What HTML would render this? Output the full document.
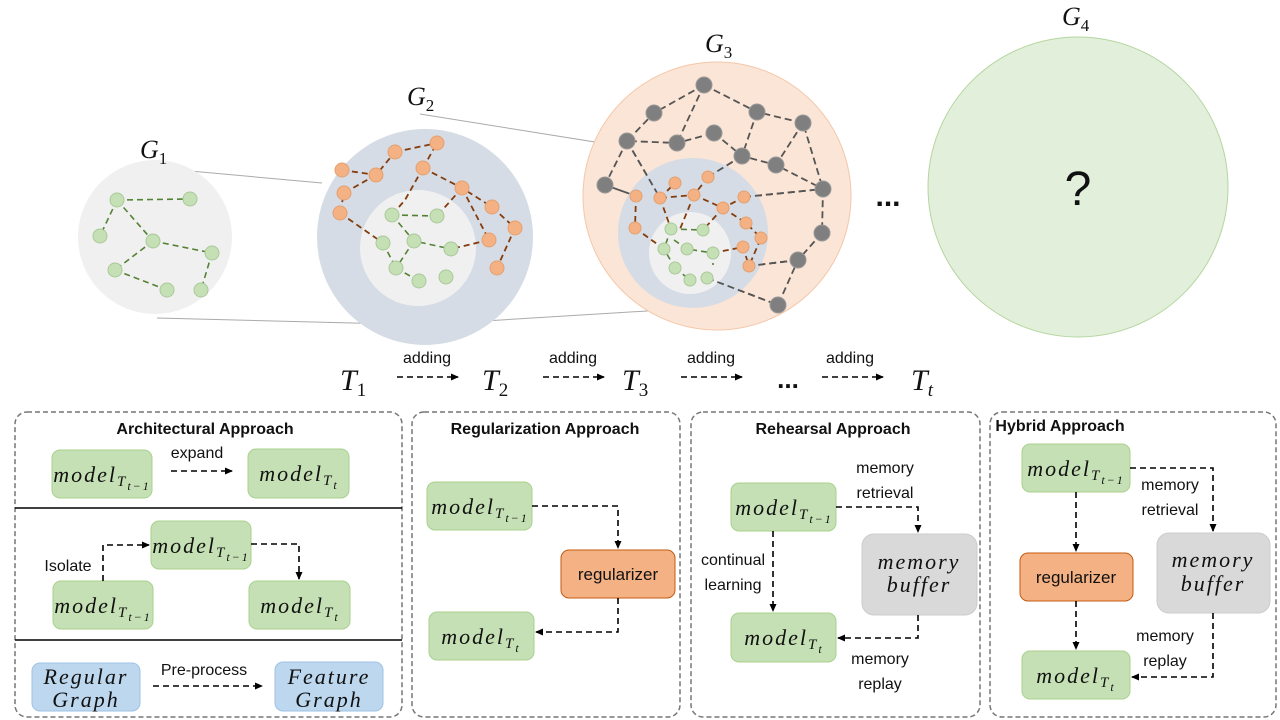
<!DOCTYPE html>
<html><head><meta charset="utf-8"><style>
html,body{margin:0;padding:0;background:#fff;width:1280px;height:720px;overflow:hidden}
svg{display:block}
.m{font-family:"Liberation Serif",serif;font-style:italic;font-size:22px;letter-spacing:2px}
.s{font-family:"Liberation Sans",sans-serif;font-size:16px;fill:#111}
.t{font-family:"Liberation Sans",sans-serif;font-size:16px;font-weight:bold;fill:#111}
.g{stroke:#548235;stroke-width:1.6;stroke-dasharray:6 4;fill:none}
.o{stroke:#843c0c;stroke-width:1.8;stroke-dasharray:6 4;fill:none}
.k{stroke:#555;stroke-width:1.8;stroke-dasharray:7 4;fill:none}
.a{stroke:#000;stroke-width:1.6;stroke-dasharray:6 4;fill:none}
</style></head><body>
<svg width="1280" height="720" viewBox="0 0 1280 720" xmlns="http://www.w3.org/2000/svg">
<defs>
<marker id="ar" markerWidth="8" markerHeight="8" refX="7" refY="4" orient="auto" markerUnits="userSpaceOnUse"><path d="M0,0.5 L8,4 L0,7.5z" fill="#000"/></marker>
</defs>
<line x1="157" y1="168" x2="322" y2="183" stroke="#aaa" stroke-width="1"/>
<line x1="157" y1="318" x2="428" y2="325" stroke="#aaa" stroke-width="1"/>
<line x1="420" y1="114" x2="695" y2="158" stroke="#aaa" stroke-width="1"/>
<line x1="420" y1="325" x2="695" y2="308" stroke="#aaa" stroke-width="1"/>
<circle cx="155" cy="237" r="77" fill="#f0f0f0"/>
<g class="g"><path d="M117,200 L190,199 M117,200 L100,236 M117,200 L153,241 M153,241 L212,253 M153,241 L115,270 M212,253 L201,290 M115,270 L167,290"/></g>
<g fill="#c5e0b4" stroke="#a9c99a" stroke-width="1"><circle cx="117" cy="200" r="7"/><circle cx="190" cy="199" r="7"/><circle cx="100" cy="236" r="7"/><circle cx="153" cy="241" r="7"/><circle cx="212" cy="253" r="7"/><circle cx="115" cy="270" r="7"/><circle cx="167" cy="290" r="7"/><circle cx="201" cy="290" r="7"/></g>
<circle cx="425" cy="237" r="108" fill="#d6dce5"/>
<circle cx="418" cy="248" r="58" fill="#f0f0f0"/>
<g class="o"><path d="M342,170 L376,175 L395,152 M376,175 L344,193 L340,213 M395,152 L437,143 M423,168 L437,143 M423,168 L462,188 L492,207 L515,228 L497,268 M462,188 L489,240 M423,168 L405,200 L392,215 M340,213 L383,243 M462,188 L437,216 M489,240 L451,249"/></g>
<g class="g"><path d="M392,215 L437,216 M392,215 L414,241 L451,249 M383,243 L396,268 M414,241 L396,268 M396,268 L419,281"/></g>
<g fill="#f4b183" stroke="#e3a070" stroke-width="1"><circle cx="342" cy="170" r="7"/><circle cx="395" cy="152" r="7"/><circle cx="437" cy="143" r="7"/><circle cx="376" cy="175" r="7"/><circle cx="423" cy="168" r="7"/><circle cx="462" cy="188" r="7"/><circle cx="344" cy="193" r="7"/><circle cx="492" cy="207" r="7"/><circle cx="340" cy="213" r="7"/><circle cx="515" cy="228" r="7"/><circle cx="489" cy="240" r="7"/><circle cx="497" cy="268" r="7"/></g>
<g fill="#c5e0b4" stroke="#a9c99a" stroke-width="1"><circle cx="392" cy="215" r="7"/><circle cx="437" cy="216" r="7"/><circle cx="383" cy="243" r="7"/><circle cx="414" cy="241" r="7"/><circle cx="451" cy="249" r="7"/><circle cx="396" cy="268" r="7"/><circle cx="419" cy="281" r="7"/><circle cx="446" cy="277" r="7"/></g>
<circle cx="717" cy="196" r="134" fill="#fbe5d6" stroke="#f4c7a8" stroke-width="1"/>
<g class="k"><path d="M704,85 L654,113 L627,141 L677,143 L714,133 M704,85 L677,143 M704,85 L757,112 L803,123 L823,189 L822,233 L798,260 L778,305 M757,112 L742,156 L776,165 L823,189 M803,123 L776,165 M714,133 L742,156 M627,141 L605,185 L636,196 M627,141 L660,198 M605,185 L636,196 M744,197 L823,189 M798,260 L749,266 M707,278 L778,305 M742,156 L708,177"/></g>
<circle cx="693" cy="233" r="75" fill="#d6dce5"/>
<circle cx="690" cy="253" r="41" fill="#f0f0f0"/>
<g class="k"><path d="M742,156 L708,177 M744,197 L823,189 M798,260 L749,266 M707,278 L778,305 M627,141 L660,198"/></g>
<g class="o"><path d="M636,196 L635,228 M660,198 L675,183 M708,177 L694,195 L660,198 M694,195 L723,208 L744,197 M723,208 L746,223 L761,238 L749,266 M635,228 L664,249 M660,198 L671,229 M694,195 L680,229 M723,208 L703,230 M713,253 L743,247 L749,266"/></g>
<g class="g"><path d="M671,229 L703,230 M671,229 L664,249 M674,240 L687,249 L713,253 M675,268 L664,249 M713,253 L713,265 M675,268 L690,280"/></g>
<g fill="#7f7f7f" stroke="#999" stroke-width="1"><circle cx="704" cy="85" r="8"/><circle cx="654" cy="113" r="8"/><circle cx="627" cy="141" r="8"/><circle cx="677" cy="143" r="8"/><circle cx="714" cy="133" r="8"/><circle cx="757" cy="112" r="8"/><circle cx="803" cy="123" r="8"/><circle cx="742" cy="156" r="8"/><circle cx="776" cy="165" r="8"/><circle cx="823" cy="189" r="8"/><circle cx="605" cy="185" r="8"/><circle cx="822" cy="233" r="8"/><circle cx="798" cy="260" r="8"/><circle cx="778" cy="305" r="8"/></g>
<g fill="#f4b183" stroke="#e3a070" stroke-width="1"><circle cx="675" cy="183" r="6"/><circle cx="708" cy="177" r="6"/><circle cx="636" cy="196" r="6"/><circle cx="660" cy="198" r="6"/><circle cx="694" cy="195" r="6"/><circle cx="744" cy="197" r="6"/><circle cx="723" cy="208" r="6"/><circle cx="635" cy="228" r="6"/><circle cx="746" cy="223" r="6"/><circle cx="761" cy="238" r="6"/><circle cx="743" cy="247" r="6"/><circle cx="749" cy="266" r="6"/></g>
<g fill="#c5e0b4" stroke="#a9c99a" stroke-width="1"><circle cx="671" cy="229" r="6"/><circle cx="703" cy="230" r="6"/><circle cx="664" cy="249" r="6"/><circle cx="687" cy="249" r="6"/><circle cx="713" cy="253" r="6"/><circle cx="675" cy="268" r="6"/><circle cx="690" cy="280" r="6"/><circle cx="707" cy="278" r="6"/></g>
<circle cx="1078" cy="187" r="150" fill="#e2efda" stroke="#b5d6a0" stroke-width="1"/>
<text x="1078" y="205" text-anchor="middle" font-family="Liberation Sans,sans-serif" font-size="48" fill="#111">?</text>
<text x="888" y="206" text-anchor="middle" font-family="Liberation Sans,sans-serif" font-size="30" font-weight="bold" fill="#111">...</text>
<g font-family="Liberation Serif,serif" font-style="italic" font-size="26" fill="#111">
<text x="140" y="158">G<tspan font-size="17" dy="6" font-style="normal">1</tspan></text>
<text x="407" y="105">G<tspan font-size="17" dy="6" font-style="normal">2</tspan></text>
<text x="705" y="52">G<tspan font-size="17" dy="6" font-style="normal">3</tspan></text>
<text x="1062" y="25">G<tspan font-size="17" dy="6" font-style="normal">4</tspan></text>
</g>
<g font-family="Liberation Serif,serif" font-style="italic" font-size="30" fill="#111">
<text x="340" y="390">T<tspan font-size="19" dy="6" font-style="normal">1</tspan></text>
<text x="482" y="390">T<tspan font-size="19" dy="6" font-style="normal">2</tspan></text>
<text x="622" y="390">T<tspan font-size="19" dy="6" font-style="normal">3</tspan></text>
<text x="911" y="390">T<tspan font-size="19" dy="6">t</tspan></text>
</g>
<text x="788" y="388" text-anchor="middle" font-family="Liberation Sans,sans-serif" font-size="26" font-weight="bold" fill="#111">...</text>
<g class="s" text-anchor="middle"><text x="427" y="363">adding</text><text x="573" y="363">adding</text><text x="711" y="363">adding</text><text x="850" y="363">adding</text></g>
<g class="a" marker-end="url(#ar)"><line x1="397" y1="377" x2="458" y2="377"/><line x1="543" y1="377" x2="604" y2="377"/><line x1="681" y1="377" x2="742" y2="377"/><line x1="822" y1="377" x2="883" y2="377"/></g>
<g fill="none" stroke="#777" stroke-width="1.5" stroke-dasharray="5 3">
<rect x="15" y="412" width="387" height="305" rx="12"/>
<rect x="412" y="412" width="268" height="305" rx="12"/>
<rect x="691" y="412" width="289" height="305" rx="12"/>
<rect x="990" y="412" width="286" height="305" rx="12"/>
</g>
<line x1="15" y1="508" x2="402" y2="508" stroke="#000" stroke-width="1.5"/>
<line x1="15" y1="640" x2="402" y2="640" stroke="#000" stroke-width="1.5"/>
<g class="t" text-anchor="middle"><text x="205" y="434">Architectural Approach</text><text x="545" y="434">Regularization Approach</text><text x="833" y="434">Rehearsal Approach</text><text x="1060" y="431">Hybrid Approach</text></g>
<g fill="#c5e0b4" stroke="#a9d18e" stroke-width="1">
<rect x="52" y="450" width="100" height="48" rx="8"/><rect x="248" y="449" width="101" height="49" rx="8"/>
<rect x="151" y="521" width="100" height="48" rx="8"/><rect x="53" y="581" width="100" height="48" rx="8"/><rect x="249" y="581" width="101" height="48" rx="8"/>
<rect x="427" y="482" width="105" height="48" rx="8"/><rect x="429" y="612" width="105" height="48" rx="8"/>
<rect x="731" y="483" width="105" height="48" rx="8"/><rect x="731" y="613" width="105" height="49" rx="8"/>
<rect x="1022" y="444" width="108" height="48" rx="8"/><rect x="1022" y="651" width="108" height="48" rx="8"/>
</g>
<g fill="#bdd7ee" stroke="#9dc3e6" stroke-width="1"><rect x="32" y="663" width="108" height="48" rx="8"/><rect x="275" y="662" width="108" height="49" rx="8"/></g>
<g fill="#f4b183" stroke="#c55a11" stroke-width="1"><rect x="561" y="550" width="114" height="48" rx="8"/><rect x="1020" y="553" width="113" height="48" rx="8"/></g>
<g fill="#d9d9d9" stroke="#ccc" stroke-width="1"><rect x="862" y="534" width="115" height="81" rx="12"/><rect x="1157" y="533" width="113" height="80" rx="12"/></g>
<g class="m" fill="#111" text-anchor="middle">
<text x="102" y="482">model<tspan font-size="15" dy="4">T</tspan><tspan font-size="12" dy="4">t−1</tspan></text>
<text x="299" y="481">model<tspan font-size="15" dy="4">T</tspan><tspan font-size="12" dy="4">t</tspan></text>
<text x="201" y="553">model<tspan font-size="15" dy="4">T</tspan><tspan font-size="12" dy="4">t−1</tspan></text>
<text x="103" y="613">model<tspan font-size="15" dy="4">T</tspan><tspan font-size="12" dy="4">t−1</tspan></text>
<text x="300" y="613">model<tspan font-size="15" dy="4">T</tspan><tspan font-size="12" dy="4">t</tspan></text>
<text x="480" y="514">model<tspan font-size="15" dy="4">T</tspan><tspan font-size="12" dy="4">t−1</tspan></text>
<text x="481" y="644">model<tspan font-size="15" dy="4">T</tspan><tspan font-size="12" dy="4">t</tspan></text>
<text x="784" y="515">model<tspan font-size="15" dy="4">T</tspan><tspan font-size="12" dy="4">t−1</tspan></text>
<text x="784" y="645">model<tspan font-size="15" dy="4">T</tspan><tspan font-size="12" dy="4">t</tspan></text>
<text x="1076" y="476">model<tspan font-size="15" dy="4">T</tspan><tspan font-size="12" dy="4">t−1</tspan></text>
<text x="1076" y="683">model<tspan font-size="15" dy="4">T</tspan><tspan font-size="12" dy="4">t</tspan></text>
<text x="86" y="684">Regular</text><text x="86" y="707">Graph</text>
<text x="329" y="684">Feature</text><text x="329" y="707">Graph</text>
<text x="919" y="569">memory</text><text x="919" y="592">buffer</text>
<text x="1213" y="567">memory</text><text x="1213" y="591">buffer</text>
</g>
<g class="s" text-anchor="middle" style="font-size:17px">
<text x="618" y="580">regularizer</text><text x="1076" y="583">regularizer</text>
</g>
<g class="s" text-anchor="middle">
<text x="197" y="458">expand</text><text x="68" y="571">Isolate</text><text x="204" y="675">Pre-process</text>
<text x="885" y="473">memory</text><text x="885" y="498">retrieval</text>
<text x="733" y="565">continual</text><text x="733" y="590">learning</text>
<text x="880" y="664">memory</text><text x="880" y="689">replay</text>
<text x="1170" y="490">memory</text><text x="1170" y="515">retrieval</text>
<text x="1165" y="641">memory</text><text x="1165" y="666">replay</text>
</g>
<g class="a" marker-end="url(#ar)">
<line x1="171" y1="471" x2="232" y2="471"/>
<polyline points="103,581 103,545 149,545"/>
<polyline points="251,544 299,544 299,579"/>
<line x1="153" y1="686" x2="262" y2="686"/>
<polyline points="532,506 618,506 618,548"/>
<polyline points="618,598 618,632 536,632"/>
<polyline points="836,507 918,507 918,532"/>
<line x1="773" y1="531" x2="773" y2="611"/>
<polyline points="918,615 918,638 838,638"/>
<polyline points="1130,468 1213,468 1213,531"/>
<line x1="1076" y1="492" x2="1076" y2="551"/>
<line x1="1076" y1="601" x2="1076" y2="649"/>
<polyline points="1213,613 1213,677 1132,677"/>
</g>
</svg>
</body></html>
